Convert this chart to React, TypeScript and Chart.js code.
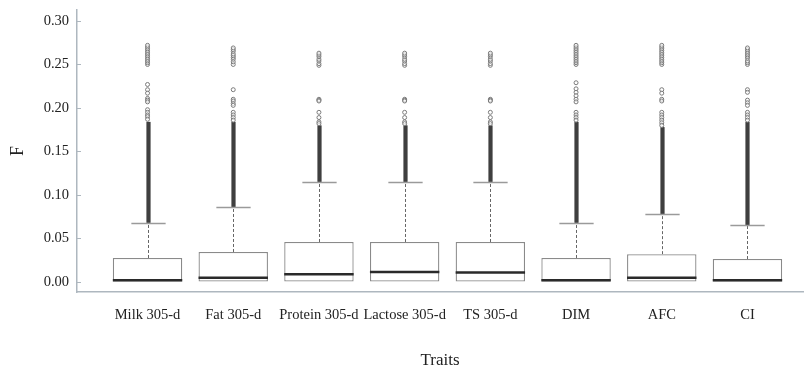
import React, { useEffect, useRef } from "react";
import { Chart, registerables } from "chart.js";

Chart.register(...registerables);

const categories = ["Milk 305-d", "Fat 305-d", "Protein 305-d", "Lactose 305-d", "TS 305-d", "DIM", "AFC", "CI"];
const lowerQuartile = [0, 0, 0, 0, 0, 0, 0, 0];
const medians = [0.002, 0.005, 0.009, 0.0115, 0.011, 0.002, 0.005, 0.002];
const upperQuartile = [0.0276, 0.0345, 0.046, 0.046, 0.046, 0.0276, 0.032, 0.0264];
const upperWhisker = [0.068, 0.086, 0.115, 0.115, 0.115, 0.068, 0.078, 0.0655];
// dense band of overlapping outliers, from the whisker up to this value
const denseOutlierTop = [0.184, 0.184, 0.18, 0.18, 0.18, 0.184, 0.178, 0.184];
const sparseOutliers: number[][] = [
  [0.25, 0.252, 0.254, 0.256, 0.258, 0.26, 0.262, 0.264, 0.266, 0.268, 0.27, 0.272, 0.227, 0.221, 0.217, 0.211, 0.209, 0.207, 0.198, 0.195, 0.192, 0.19, 0.187],
  [0.25, 0.253, 0.256, 0.258, 0.26, 0.262, 0.265, 0.267, 0.269, 0.221, 0.21, 0.208, 0.205, 0.203, 0.195, 0.192, 0.189, 0.186],
  [0.249, 0.251, 0.254, 0.256, 0.259, 0.261, 0.263, 0.21, 0.209, 0.208, 0.195, 0.189, 0.184, 0.182],
  [0.249, 0.251, 0.254, 0.256, 0.259, 0.261, 0.263, 0.21, 0.209, 0.208, 0.195, 0.189, 0.184, 0.182],
  [0.249, 0.251, 0.254, 0.256, 0.259, 0.261, 0.263, 0.21, 0.209, 0.208, 0.195, 0.189, 0.184, 0.182],
  [0.25, 0.252, 0.254, 0.256, 0.258, 0.26, 0.262, 0.264, 0.266, 0.268, 0.27, 0.272, 0.229, 0.222, 0.218, 0.214, 0.21, 0.207, 0.195, 0.192, 0.189, 0.186],
  [0.25, 0.252, 0.254, 0.256, 0.258, 0.26, 0.262, 0.264, 0.266, 0.268, 0.27, 0.272, 0.221, 0.217, 0.21, 0.208, 0.195, 0.192, 0.189, 0.186, 0.183, 0.18],
  [0.25, 0.252, 0.254, 0.257, 0.259, 0.261, 0.263, 0.265, 0.267, 0.269, 0.221, 0.218, 0.209, 0.206, 0.203, 0.195, 0.192, 0.189, 0.186],
];
const yTickValues = [0, 0.05, 0.1, 0.15, 0.2, 0.25, 0.3];

const AXIS_COLOR = "#aeb7bf";
const FONT = "'Liberation Serif', 'Times New Roman', serif";

const boxPlugin = {
  id: "boxExtras",
  beforeDatasetsDraw(chart: any) {
    const { ctx, scales } = chart;
    const xs = scales.x;
    const ys = scales.y;
    const unit = xs.getPixelForValue(1) - xs.getPixelForValue(0);
    ctx.save();
    categories.forEach((_, i) => {
      const cx = Math.round(xs.getPixelForValue(i)) + 0.5;
      // dashed whisker
      ctx.strokeStyle = "#666";
      ctx.lineWidth = 1;
      ctx.setLineDash([3, 2]);
      ctx.beginPath();
      ctx.moveTo(cx, ys.getPixelForValue(upperQuartile[i]));
      ctx.lineTo(cx, ys.getPixelForValue(upperWhisker[i]));
      ctx.stroke();
      ctx.setLineDash([]);
      // dense outlier band
      const yTop = ys.getPixelForValue(denseOutlierTop[i]);
      const yBot = ys.getPixelForValue(upperWhisker[i]);
      ctx.fillStyle = "#8c8c8c";
      ctx.fillRect(cx - 2.5, yTop, 5, yBot - yTop);
      ctx.fillStyle = "#3f3f3f";
      ctx.fillRect(cx - 1.5, yTop, 3, yBot - yTop);
      // whisker cap
      const half = unit * 0.2;
      ctx.strokeStyle = "#9a9a9a";
      ctx.lineWidth = 1.5;
      ctx.beginPath();
      const wy = Math.round(ys.getPixelForValue(upperWhisker[i])) + 0.5;
      ctx.moveTo(cx - half, wy);
      ctx.lineTo(cx + half, wy);
      ctx.stroke();
    });
    ctx.restore();
  },
  afterDatasetsDraw(chart: any) {
    const { ctx, scales } = chart;
    const xs = scales.x;
    const ys = scales.y;
    const unit = xs.getPixelForValue(1) - xs.getPixelForValue(0);
    ctx.save();
    categories.forEach((_, i) => {
      const cx = xs.getPixelForValue(i);
      const half = unit * 0.405;
      ctx.strokeStyle = "#2a2a2a";
      ctx.lineWidth = 2.5;
      ctx.beginPath();
      const my = ys.getPixelForValue(medians[i]);
      ctx.moveTo(cx - half, my);
      ctx.lineTo(cx + half, my);
      ctx.stroke();
    });
    ctx.restore();
  },
  afterDraw(chart: any) {
    const { ctx, scales } = chart;
    const ys = scales.y;
    ctx.save();
    ctx.strokeStyle = AXIS_COLOR;
    ctx.lineWidth = 1;
    yTickValues.forEach((v) => {
      const y = Math.round(ys.getPixelForValue(v)) + 0.5;
      ctx.beginPath();
      ctx.moveTo(ys.right, y);
      ctx.lineTo(ys.right + 4, y);
      ctx.stroke();
    });
    ctx.restore();
  },
};

export default function App() {
  const ref = useRef<HTMLCanvasElement | null>(null);
  useEffect(() => {
    if (!ref.current) return;
    const boxData = categories.map((_, i) => ({ x: i, y: [lowerQuartile[i], upperQuartile[i]] }));
    const outlierData: { x: number; y: number }[] = [];
    sparseOutliers.forEach((arr, i) => arr.forEach((v) => outlierData.push({ x: i, y: v })));
    const chart = new Chart(ref.current, {
      type: "bar",
      data: {
        datasets: [
          {
            type: "bar",
            data: boxData as any,
            backgroundColor: "#ffffff",
            borderColor: "#8a8a8a",
            borderWidth: 1.3,
            borderSkipped: false,
            barPercentage: 0.81,
            categoryPercentage: 1,
          } as any,
          {
            type: "scatter",
            data: outlierData,
            pointRadius: 2,
            pointStyle: "circle",
            borderColor: "#7a7a7a",
            backgroundColor: "rgba(255,255,255,0.6)",
            borderWidth: 1,
          } as any,
        ],
      },
      options: {
        responsive: false,
        animation: false,
        layout: { padding: { top: 10, right: 0, left: 0, bottom: 0 } },
        plugins: { legend: { display: false }, tooltip: { enabled: false } },
        scales: {
          x: {
            type: "linear",
            offset: false,
            min: -0.823,
            max: 7.648,
            grid: { display: true, color: "rgba(0,0,0,0)", drawTicks: false, offset: false },
            border: { display: true, color: AXIS_COLOR, width: 1.5 },
            afterBuildTicks: (s: any) => {
              s.ticks = categories.map((_, i) => ({ value: i }));
            },
            afterFit: (s: any) => {
              s.height = 77;
              s.paddingLeft = 0;
              s.paddingRight = 0;
            },
            ticks: {
              autoSkip: false,
              maxRotation: 0,
              padding: 14,
              color: "#222",
              font: { family: FONT, size: 14.5 },
              callback: (v: any) => categories[Math.round(Number(v))] ?? "",
            },
            title: {
              display: true,
              text: "Traits",
              color: "#222",
              font: { family: FONT, size: 17, lineHeight: 1 },
              padding: { top: 0, bottom: 0 },
            },
          },
          y: {
            type: "linear",
            min: -0.0115,
            max: 0.3126,
            grid: { display: true, color: "rgba(0,0,0,0)", drawTicks: false },
            border: { display: true, color: AXIS_COLOR, width: 1.5 },
            afterBuildTicks: (s: any) => {
              s.ticks = yTickValues.map((v) => ({ value: v }));
            },
            afterFit: (s: any) => {
              s.width = 77;
              s.paddingTop = 0;
              s.paddingBottom = 0;
            },
            ticks: {
              padding: 8,
              color: "#222",
              font: { family: FONT, size: 14.5 },
              callback: (v: any) => Number(v).toFixed(2),
            },
            title: {
              display: true,
              text: "F",
              color: "#222",
              font: { family: FONT, size: 18, lineHeight: 1 },
              padding: { top: 9, bottom: 0 },
            },
          },
        },
      },
      plugins: [boxPlugin],
    });
    return () => chart.destroy();
  }, []);
  return (
    <div style={{ position: "absolute", left: 0, top: 0, width: 808, height: 369 }}>
      <canvas ref={ref} width={808} height={369} style={{ display: "block" }} />
    </div>
  );
}
